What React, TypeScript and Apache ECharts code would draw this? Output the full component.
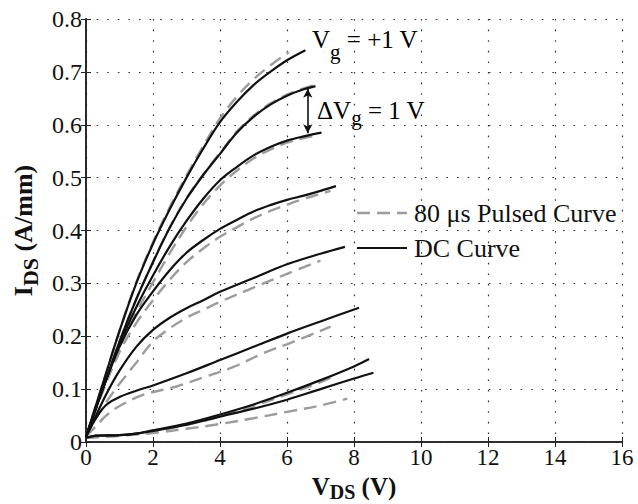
import React, { useEffect, useRef } from 'react';
import * as echarts from 'echarts';

const FONT = "'Liberation Serif', 'Times New Roman', Times, serif";

const xTickValues = [0, 2, 4, 6, 8, 10, 12, 14, 16];
const yTickValues = [0, 0.1, 0.2, 0.3, 0.4, 0.5, 0.6, 0.7, 0.8];

const pulsedName = '80 \u03bcs Pulsed Curve';
const dcName = 'DC Curve';

// DC curves (solid black), Vg = +1 V downwards
const dc1: number[][] = [[0, 0.01], [0.5, 0.11], [1, 0.21], [1.5, 0.3], [2, 0.375], [2.5, 0.44], [3, 0.5], [3.5, 0.555], [4, 0.605], [4.5, 0.643], [5, 0.675], [5.5, 0.7], [6, 0.722], [6.55, 0.741]];
const dc2: number[][] = [[0, 0.01], [0.5, 0.1], [1, 0.19], [1.5, 0.27], [2, 0.34], [2.5, 0.405], [3, 0.46], [3.5, 0.505], [4, 0.545], [4.5, 0.585], [5, 0.615], [5.5, 0.638], [6, 0.655], [6.5, 0.667], [6.85, 0.673]];
const dc3: number[][] = [[0, 0.01], [0.5, 0.1], [1, 0.185], [1.5, 0.255], [2, 0.315], [2.5, 0.37], [3, 0.418], [3.5, 0.46], [4, 0.495], [4.5, 0.52], [5, 0.542], [5.5, 0.558], [6, 0.57], [6.5, 0.578], [7.03, 0.585]];
const dc4: number[][] = [[0, 0.01], [0.5, 0.1], [1, 0.18], [1.5, 0.24], [2, 0.285], [2.5, 0.325], [3, 0.358], [3.5, 0.382], [4, 0.403], [4.5, 0.42], [5, 0.436], [5.5, 0.448], [6, 0.458], [6.5, 0.466], [7, 0.475], [7.46, 0.484]];
const dc5: number[][] = [[0, 0.01], [0.3, 0.05], [0.6, 0.09], [1, 0.135], [1.5, 0.18], [2, 0.212], [2.5, 0.235], [3, 0.253], [3.5, 0.268], [4, 0.284], [5, 0.31], [6, 0.336], [7, 0.356], [7.73, 0.369]];
const dc6: number[][] = [[0, 0.01], [0.3, 0.045], [0.6, 0.07], [1, 0.085], [1.5, 0.097], [2, 0.107], [3, 0.13], [4, 0.155], [5, 0.18], [6, 0.205], [7, 0.228], [8.15, 0.254]];
const dc7: number[][] = [[0, 0.008], [0.3, 0.012], [1, 0.013], [1.5, 0.016], [2, 0.022], [3, 0.035], [4, 0.052], [5, 0.071], [6, 0.093], [7, 0.117], [8, 0.143], [8.45, 0.157]];
const dc8: number[][] = [[0, 0.008], [0.3, 0.012], [1, 0.013], [1.5, 0.016], [2, 0.021], [3, 0.033], [4, 0.048], [5, 0.063], [6, 0.08], [7, 0.1], [8, 0.12], [8.58, 0.131]];

// 80 us pulsed curves (dashed grey)
const p1: number[][] = [[0, 0.01], [0.5, 0.11], [1, 0.21], [1.5, 0.302], [2, 0.378], [2.5, 0.444], [3, 0.504], [3.5, 0.56], [4, 0.612], [4.5, 0.653], [5, 0.686], [5.5, 0.712], [6.05, 0.737]];
const p2: number[][] = [[0, 0.01], [0.5, 0.1], [1, 0.19], [1.5, 0.27], [2, 0.341], [2.5, 0.406], [3, 0.461], [3.5, 0.506], [4, 0.547], [4.5, 0.587], [5, 0.617], [5.5, 0.64], [6, 0.657], [6.5, 0.669], [6.8, 0.675]];
const p3: number[][] = [[0, 0.01], [0.5, 0.1], [1, 0.18], [1.5, 0.245], [2, 0.302], [2.5, 0.357], [3, 0.407], [3.5, 0.45], [4, 0.485], [4.5, 0.513], [5, 0.536], [5.5, 0.553], [6, 0.566], [6.5, 0.575], [6.9, 0.58]];
const p4: number[][] = [[0, 0.01], [0.5, 0.095], [1, 0.17], [1.5, 0.225], [2, 0.268], [2.5, 0.307], [3, 0.34], [3.5, 0.366], [4, 0.388], [4.5, 0.406], [5, 0.423], [5.5, 0.437], [6, 0.449], [6.5, 0.46], [7, 0.469], [7.3, 0.475]];
const p5: number[][] = [[0, 0.01], [0.3, 0.045], [0.6, 0.075], [1, 0.11], [1.5, 0.15], [2, 0.19], [2.5, 0.215], [3, 0.235], [3.5, 0.25], [4, 0.265], [5, 0.292], [6, 0.318], [7, 0.343]];
const p6: number[][] = [[0, 0.01], [0.3, 0.03], [0.6, 0.05], [1, 0.068], [1.7, 0.089], [2.7, 0.105], [3.5, 0.122], [4.4, 0.142], [5.3, 0.168], [6.2, 0.19], [7.3, 0.218]];
const p7: number[][] = [[0, 0.008], [1, 0.012], [2, 0.02], [3, 0.032], [4, 0.048], [5, 0.068], [6, 0.09], [7, 0.113], [7.4, 0.125]];
const p8: number[][] = [[0, 0.008], [1, 0.012], [2, 0.017], [3, 0.025], [4, 0.034], [5, 0.045], [6, 0.057], [7, 0.069], [7.8, 0.082]];

const dcCurves = [dc1, dc2, dc3, dc4, dc5, dc6, dc7, dc8];
const pulsedCurves = [p1, p2, p3, p4, p5, p6, p7, p8];

// Delta Vg arrow between the 2nd and 3rd DC curves
const arrowX = 6.62;
const arrowTop = 0.668;
const arrowBottom = 0.584;

const PULSED_COLOR = '#9c9c9c';
const PULSED_DASH = [13, 7];
const DC_COLOR = '#111';

export default function App() {
  const ref = useRef<HTMLDivElement>(null);

  useEffect(() => {
    if (!ref.current) return;
    const chart = echarts.init(ref.current, undefined, { renderer: 'svg' });

    const gridLine = { show: true, lineStyle: { color: '#333', width: 1.2, type: [1.6, 9] as any } };
    const frameLine = { show: true, lineStyle: { color: '#222', width: 1.6 } };
    const tick = { show: true, inside: true, length: 5, lineStyle: { color: '#222' } };

    const pulsedSeries = pulsedCurves.map((d) => ({
      type: 'line',
      name: pulsedName,
      data: d,
      showSymbol: false,
      symbol: 'none',
      smooth: 0.35,
      lineStyle: { color: PULSED_COLOR, width: 2.4, type: PULSED_DASH },
      itemStyle: { color: PULSED_COLOR },
      z: 2,
    }));

    const dcSeries = dcCurves.map((d, i) => ({
      type: 'line',
      name: dcName,
      data: d,
      showSymbol: false,
      symbol: 'none',
      smooth: 0.35,
      lineStyle: { color: DC_COLOR, width: 2.2, type: 'solid' },
      itemStyle: { color: DC_COLOR },
      z: 3,
      markLine: i === 1 ? {
        silent: true,
        symbol: ['arrow', 'arrow'],
        symbolSize: [7, 9],
        label: { show: false },
        lineStyle: { color: DC_COLOR, width: 1.6, type: 'solid' },
        data: [[{ coord: [arrowX, arrowTop] }, { coord: [arrowX, arrowBottom] }]],
      } : undefined,
    }));

    const yTitleRich = {
      b: { fontFamily: FONT, fontSize: 26, fontWeight: 'bold', color: '#111', lineHeight: 26, verticalAlign: 'top' },
      bs: { fontFamily: FONT, fontSize: 22, fontWeight: 'bold', color: '#111', lineHeight: 22, verticalAlign: 'top', padding: [9, 0, 0, 0] },
    };
    const xTitleRich = {
      b: { fontFamily: FONT, fontSize: 25, fontWeight: 'bold', color: '#111', lineHeight: 25, verticalAlign: 'top' },
      bs: { fontFamily: FONT, fontSize: 20, fontWeight: 'bold', color: '#111', lineHeight: 20, verticalAlign: 'top', padding: [8, 0, 0, 0] },
    };

    chart.setOption({
      animation: false,
      backgroundColor: '#fff',
      textStyle: { fontFamily: FONT },
      grid: { left: 86, top: 19, right: 16, bottom: 62, containLabel: false, outerBoundsMode: 'none' },
      xAxis: [
        {
          type: 'value', min: 0, max: 16, interval: 2,
          axisLine: frameLine,
          axisTick: tick,
          axisLabel: {
            fontFamily: FONT, fontSize: 23, color: '#111', margin: 4,
            formatter: (v: number) => (xTickValues.includes(v) ? String(v) : ''),
          },
          splitLine: gridLine,
          name: '{b|V}{bs|DS}{b| (V)}',
          nameLocation: 'middle',
          nameGap: 26,
          nameTextStyle: { rich: xTitleRich },
        },
        {
          type: 'value', min: 0, max: 16, interval: 2, position: 'top',
          axisLine: frameLine,
          axisTick: tick,
          axisLabel: { show: false },
          splitLine: { show: false },
        },
      ],
      yAxis: [
        {
          type: 'value', min: 0, max: 0.8, interval: 0.1,
          axisLine: frameLine,
          axisTick: tick,
          axisLabel: {
            fontFamily: FONT, fontSize: 24, color: '#111', margin: 4,
            formatter: (v: number) => {
              const t = yTickValues.find((y) => Math.abs(y - v) < 1e-6);
              if (t === undefined) return '';
              return t === 0 ? '0' : t.toFixed(1);
            },
          },
          splitLine: gridLine,
          name: '{b|I}{bs|DS}{b| (A/mm)}',
          nameLocation: 'middle',
          nameRotate: 90,
          nameGap: 50,
          nameTextStyle: { rich: yTitleRich },
        },
        {
          type: 'value', min: 0, max: 0.8, interval: 0.1, position: 'right',
          axisLine: frameLine,
          axisTick: tick,
          axisLabel: { show: false },
          splitLine: { show: false },
        },
      ],
      graphic: [
        {
          type: 'text',
          x: 312,
          y: 27,
          z: 10,
          style: {
            text: '{m|V}{s|g}{m| = +1 V}',
            verticalAlign: 'top',
            rich: {
              m: { fontFamily: FONT, fontSize: 25, color: '#111', lineHeight: 25, verticalAlign: 'top' },
              s: { fontFamily: FONT, fontSize: 21, color: '#111', lineHeight: 21, verticalAlign: 'top', padding: [14, 0, 0, 0] },
            },
          },
        },
        {
          type: 'text',
          x: 317,
          y: 98,
          z: 10,
          style: {
            text: '{m|\u0394V}{s|g}{m| = 1 V}',
            verticalAlign: 'top',
            rich: {
              m: { fontFamily: FONT, fontSize: 25, color: '#111', lineHeight: 25, verticalAlign: 'top' },
              s: { fontFamily: FONT, fontSize: 21, color: '#111', lineHeight: 21, verticalAlign: 'top', padding: [9, 0, 0, 0] },
            },
          },
        },
        // legend
        {
          type: 'line',
          z: 10,
          shape: { x1: 357, y1: 213, x2: 407, y2: 213 },
          style: { stroke: PULSED_COLOR, lineWidth: 2.4, lineDash: PULSED_DASH },
        },
        {
          type: 'text',
          x: 414,
          y: 213,
          z: 10,
          style: { text: pulsedName, fontFamily: FONT, fontSize: 26, fill: '#111', verticalAlign: 'middle', align: 'left' },
        },
        {
          type: 'line',
          z: 10,
          shape: { x1: 357, y1: 248, x2: 407, y2: 248 },
          style: { stroke: DC_COLOR, lineWidth: 2.2 },
        },
        {
          type: 'text',
          x: 414,
          y: 248,
          z: 10,
          style: { text: dcName, fontFamily: FONT, fontSize: 26, fill: '#111', verticalAlign: 'middle', align: 'left' },
        },
      ],
      series: [...pulsedSeries, ...dcSeries],
    } as any);

    return () => chart.dispose();
  }, []);

  return <div ref={ref} style={{ position: 'absolute', left: 0, top: 0, width: 638, height: 504 }} />;
}
